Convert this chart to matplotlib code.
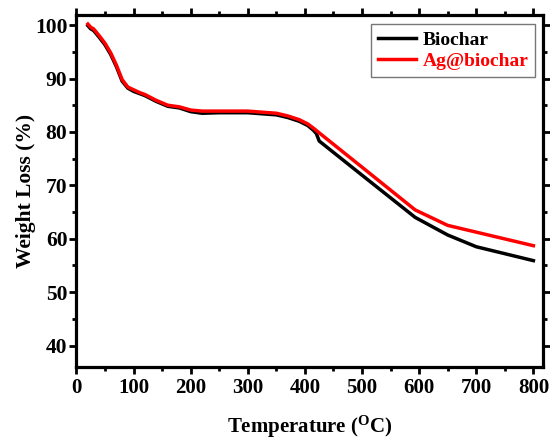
import matplotlib
matplotlib.use('Agg')
import matplotlib.pyplot as plt
from matplotlib.ticker import MultipleLocator

plt.rcParams['font.family'] = 'Liberation Serif'
plt.rcParams['font.weight'] = 'bold'
plt.rcParams['mathtext.fontset'] = 'custom'
plt.rcParams['mathtext.rm'] = 'Liberation Serif:bold'
plt.rcParams['mathtext.bf'] = 'Liberation Serif:bold'

# TGA data
temp_bc = [20, 25, 30, 40, 50, 60, 70, 80, 90, 100, 110, 120, 140, 160, 180, 200, 220, 250,
           300, 350, 370, 390, 405, 415, 420, 425, 500, 593, 650, 700, 800]
wl_bc = [99.9, 99.3, 99.0, 97.7, 96.3, 94.5, 92.2, 89.5, 88.2, 87.6, 87.2, 86.8, 85.7, 84.8,
         84.5, 83.8, 83.5, 83.6, 83.6, 83.2, 82.7, 82.0, 81.2, 80.3, 79.7, 78.3, 71.9, 64.0,
         60.7, 58.5, 55.9]

temp_ag = [20, 25, 30, 40, 50, 60, 70, 80, 90, 100, 110, 120, 140, 160, 180, 200, 220, 250,
           300, 350, 370, 390, 405, 415, 430, 500, 593, 650, 800]
wl_ag = [100.2, 99.6, 99.3, 98.0, 96.6, 94.8, 92.5, 89.8, 88.4, 87.9, 87.4, 87.0, 85.9, 85.0,
         84.7, 84.1, 83.9, 83.9, 83.9, 83.5, 83.0, 82.3, 81.5, 80.7, 79.4, 73.4, 65.4, 62.5,
         58.7]

fig = plt.figure(figsize=(5.5, 4.41), dpi=100)
ax = fig.add_axes([0.139, 0.168, 0.849, 0.798])

ax.plot(temp_bc, wl_bc, color='black', lw=2.5, label='Biochar')
ax.plot(temp_ag, wl_ag, color='red', lw=2.5, label='Ag@biochar')

ax.set_xlim(0, 817.5)
ax.set_ylim(36.0, 101.9)
ax.xaxis.set_major_locator(MultipleLocator(100))
ax.xaxis.set_minor_locator(MultipleLocator(50))
ax.yaxis.set_major_locator(MultipleLocator(10))
ax.yaxis.set_minor_locator(MultipleLocator(5))
ax.set_yticks(range(40, 101, 10))

for s in ax.spines.values():
    s.set_linewidth(2.3)
ax.tick_params(which='both', direction='out', top=True, right=True,
               labeltop=False, labelright=False, width=2)
ax.tick_params(axis='x', labelsize=15, pad=3)
ax.tick_params(axis='y', labelsize=15.5, pad=1.5)
ax.tick_params(which='major', length=5)
ax.tick_params(which='minor', length=3)
for lab in ax.get_xticklabels() + ax.get_yticklabels():
    lab.set_fontweight('bold')

ax.set_xlabel(r'Temperature ($\mathregular{^{O}}$C)', fontsize=15, fontweight='bold', labelpad=11)
ax.set_ylabel('Weight Loss (%)', fontsize=15.5, fontweight='bold', labelpad=-1)

leg = ax.legend(loc='upper right', fontsize=14, frameon=True, fancybox=False,
                handlelength=2.0, handletextpad=0.3, borderpad=0.35, labelspacing=0.2,
                borderaxespad=0, bbox_to_anchor=(0.982, 0.974))
leg.get_frame().set_edgecolor('#555555')
leg.get_frame().set_linewidth(1)
for t in leg.get_texts():
    t.set_fontweight('bold')
leg.get_texts()[1].set_color('red')

fig.savefig('out.png', dpi=100)
